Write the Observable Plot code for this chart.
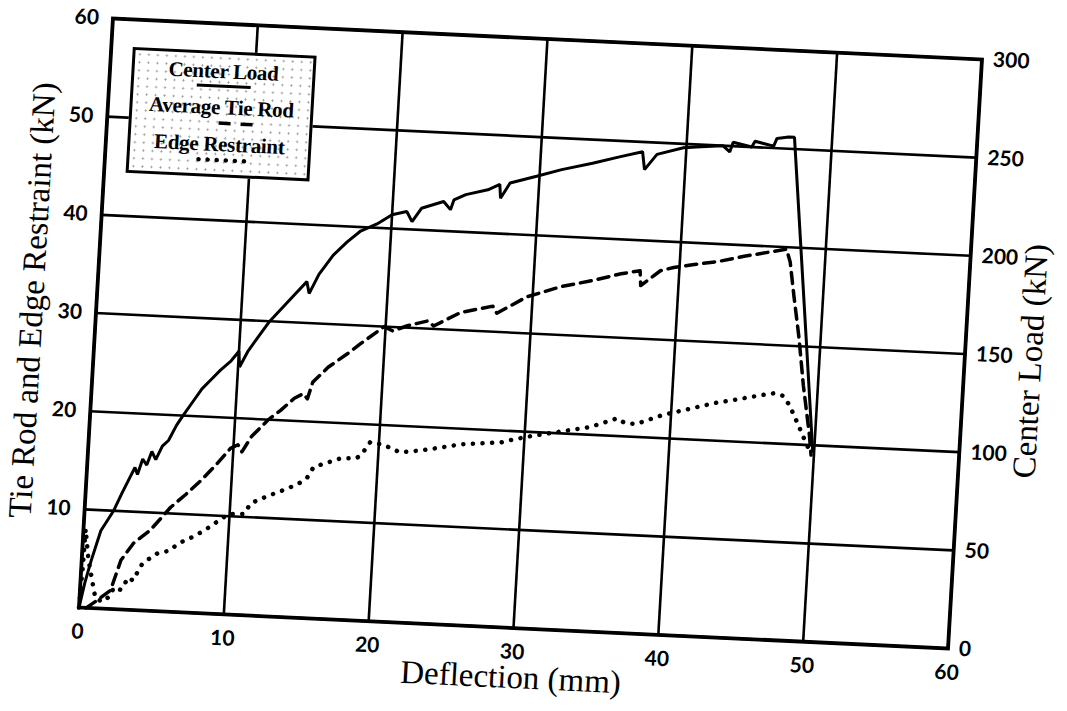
<!DOCTYPE html>
<html><head><meta charset="utf-8">
<script src="https://cdn.jsdelivr.net/npm/d3@7"></script>
<script src="https://cdn.jsdelivr.net/npm/@observablehq/plot@0.6"></script>
<style>
body{margin:0;background:#fff;overflow:hidden;}
#wrap{position:relative;width:1067px;height:711px;transform:rotate(2.7deg) skewX(-0.6deg);transform-origin:530px 333px;}
#legend{position:absolute;left:117px;top:66px;width:178px;height:120px;border:3px solid #000;background-color:#fff;
background-image:radial-gradient(circle, #9a9a9a 0.8px, transparent 1.3px);background-size:9px 8px;
font-family:"Liberation Serif",serif;font-weight:bold;font-size:21px;color:#000;}
#legend .t{position:absolute;left:0;width:100%;text-align:center;line-height:21px;letter-spacing:-0.3px;}
#legend svg{position:absolute;left:0;}
</style></head><body>
<div id="wrap"><div id="chart"></div>
<div id="legend">
<div class="t" style="top:7px">Center Load</div>
<svg style="top:28px" width="178" height="8"><line x1="63" x2="117" y1="4" y2="4" stroke="#000" stroke-width="3"/></svg>
<div class="t" style="top:43px">Average Tie Rod</div>
<svg style="top:65px" width="178" height="8"><line x1="87" x2="121" y1="4" y2="4" stroke="#000" stroke-width="3.5" stroke-dasharray="12,10"/></svg>
<div class="t" style="top:80px">Edge Restraint</div>
<svg style="top:102px" width="178" height="8"><line x1="69" x2="117" y1="4" y2="4" stroke="#000" stroke-width="4.5" stroke-linecap="round" stroke-dasharray="0.1,9"/></svg>
</div></div>
<script>
// Center load (right axis, kN) vs deflection (mm)
const centerX = [0,0.3,0.65,1.2,2.0,2.5,3.0,3.3,3.5,3.8,4.1,4.4,4.7,5.1,5.5,6.0,6.4,7.0,7.6,8.2,8.8,9.5,10.0,10.1,10.6,11.2,12.0,12.8,13.6,14.4,14.6,15.2,16.1,17.0,17.9,19.0,20.0,21.0,21.4,22.0,23.5,24.0,24.2,25.0,26.5,27.3,27.4,28.0,29.8,31.5,33.6,35.5,37.0,37.2,38.0,39.8,41.0,42.5,43.0,43.2,44.5,44.7,46.0,46.2,47.0,47.4,49.9];
const centerLoad = [0,12.5,24,39.5,50,59,67.5,72.5,69,77,74,81,77,84,87,95,100,107,114,119,124,129,134,126,134,141,150,157,164,171,165,175,185,192,198,202,207,209,204,211,215,211,216,219,222,225,218,226,230,234,238,242,245,236,244,248,249,250,247,252,250,253,251,255,256,256,97];
// Average tie rod (left axis, kN)
const tieX = [0.5,1.2,2.1,2.7,3.5,4.6,5.9,6.9,7.9,8.9,9.8,10.3,10.6,11.2,12.3,13.1,14.0,14.6,14.9,15.2,16.2,17.5,18.3,19.9,20.5,21.5,22.9,23.3,25.1,27.3,27.6,29.6,31.9,34.1,36.0,37.3,37.4,38.7,39.6,41.0,42.6,44.5,46.4,47.3,47.6,48.0,48.5,49.0,49.6,49.8];
const tieRod = [0,0.8,1.9,5.0,6.8,8.2,10.6,12.0,13.5,15.2,16.9,17.3,16.6,18.2,20.0,21.0,22.3,22.8,22.3,24.0,25.6,27.1,28.1,30.0,29.6,30.2,30.8,30.3,31.8,32.6,31.9,33.7,34.9,35.7,36.5,36.9,35.4,37.0,37.4,37.8,38.2,38.9,39.5,39.8,38.5,35,30.9,26,21.1,19];
// Edge restraint (left axis, kN)
const edgeX = [0,0.1,0.15,0.3,0.45,0.8,1.1,1.6,2.15,2.3,2.8,3.3,3.6,4.2,5.2,6.0,6.6,7.4,8.3,9.1,9.9,11.0,11.4,12.5,13.6,14.6,15.2,15.6,16.5,17.4,18.5,18.8,19.4,20.3,21.5,22.9,24.3,25.6,27.0,28.4,29.1,30.5,32.5,34.5,36.3,36.8,37.6,39.5,41.0,42.9,44.5,46.0,47.0,47.6,48.1,48.8,49.3,49.7];
const edgeRestraint = [0,4,8,6.5,5,2.8,1,0.7,1.4,2.2,2.0,3.3,3.0,4.8,5.9,6.2,7.0,7.6,8.4,9.3,10.2,10.3,11.4,12.2,12.9,13.6,14.3,15.4,15.9,16.4,16.5,16.8,18.2,18.0,17.3,17.6,18.0,18.4,18.6,18.8,19.1,19.6,20.2,20.8,21.8,21.4,21.3,22.4,23.0,23.8,24.3,24.8,25.1,24.9,24.0,22.0,20.5,19.4];

const xTicks = [0,10,20,30,40,50,60];
const leftTicks = [10,20,30,40,50,60];
const gridY = [0,10,20,30,40,50,60];
const rightTicks = [0,50,100,150,200,250,300];
const loadFactor = 5; // right axis (center load) = 5 x left axis

const center = centerX.map((x,i)=>({x, v: centerLoad[i]}));
const tie = tieX.map((x,i)=>({x, v: tieRod[i]}));
const edge = edgeX.map((x,i)=>({x, v: edgeRestraint[i]}));

const tickFont = {fontFamily:"Lato, 'Liberation Sans', sans-serif", fontWeight:"bold", fontSize:21};
const titleFont = {fontFamily:"'Liberation Serif', serif", fontSize:33, fill:"#000", textAnchor:"middle"};

const chart = Plot.plot({
  width: 1067, height: 711,
  marginLeft: 95, marginRight: 102, marginTop: 38, marginBottom: 83,
  x: {domain:[0,60]},
  y: {domain:[0,60]},
  style: {background:"transparent", color:"#000", fontFamily:"Lato, sans-serif", overflow:"visible"},
  marks: [
    Plot.ruleX(xTicks, {x: d=>d, stroke:"#000", strokeWidth:2.6}),
    Plot.ruleY(gridY, {y: d=>d, stroke:"#000", strokeWidth:2.6}),
    Plot.frame({stroke:"#000", strokeWidth:3.8}),
    Plot.line(center, {x:"x", y: d=>d.v/loadFactor, stroke:"#000", strokeWidth:3, strokeLinejoin:"miter"}),
    Plot.line(tie, {x:"x", y:"v", stroke:"#000", strokeWidth:3.5, strokeDasharray:"11,7"}),
    Plot.line(edge, {x:"x", y:"v", stroke:"#000", strokeWidth:4.5, strokeLinecap:"round", strokeDasharray:"0.1,9.5"}),
    Plot.axisX({ticks:xTicks, tickSize:0, tickPadding:16, label:null, ...tickFont}),
    Plot.axisY({ticks:leftTicks, tickSize:0, tickPadding:14, label:null, ...tickFont}),
    Plot.text(rightTicks, {x:60, y:d=>d/loadFactor, text:d=>String(d), dx:11, textAnchor:"start", ...tickFont}),
    Plot.text(["Deflection (mm)"], {frameAnchor:"bottom", dy:60, ...titleFont}),
    Plot.text(["Tie Rod and Edge Restraint (kN)"], {frameAnchor:"left", dx:-64, dy:-10, rotate:-90, ...titleFont}),
    Plot.text(["Center Load (kN)"], {frameAnchor:"right", dx:66, dy:4, rotate:-90, ...titleFont})
  ]
});
document.getElementById("chart").appendChild(chart);
</script>
</body></html>
